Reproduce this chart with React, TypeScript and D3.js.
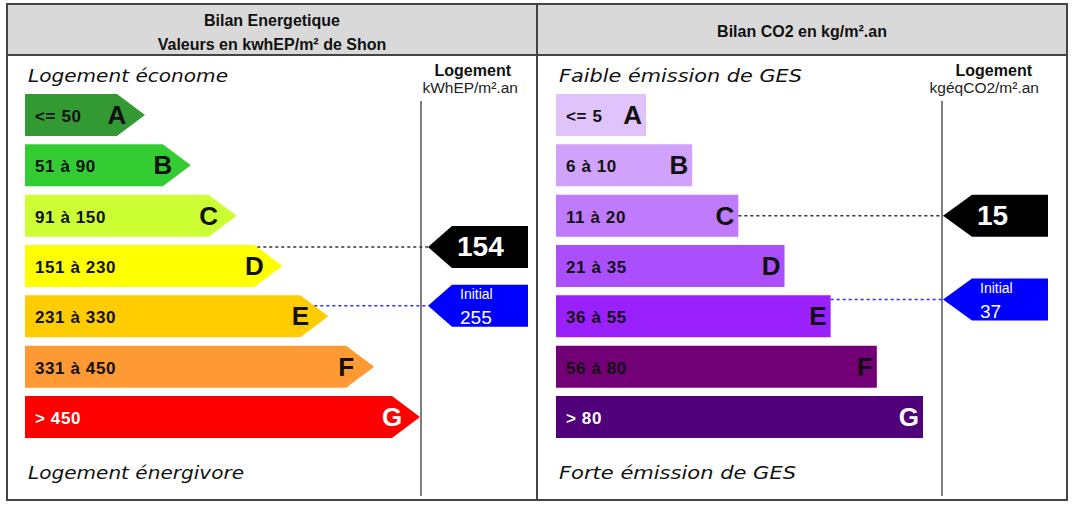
import * as d3 from 'd3'

const classes = ['A', 'B', 'C', 'D', 'E', 'F', 'G']

const energyRanges = ['<= 50', '51 à 90', '91 à 150', '151 à 230', '231 à 330', '331 à 450', '> 450']
const energyBounds = [0, 50, 90, 150, 230, 330, 450, 600]
const energyColors = ['#339933', '#33cc33', '#ccff33', '#ffff00', '#ffcc00', '#ff9933', '#ff0000']
const energyCurrent = 154
const energyInitial = 255

const co2Ranges = ['<= 5', '6 à 10', '11 à 20', '21 à 35', '36 à 55', '56 à 80', '> 80']
const co2Bounds = [0, 5, 10, 20, 35, 55, 80, 120]
const co2Colors = ['#e0c3fa', '#d1a2fb', '#c07bfc', '#ab4ffc', '#9a20fe', '#740078', '#51007c']
const co2Current = 15
const co2Initial = 37

const W = 1078
const H = 506
const FRAME = { left: 7, mid: 537, right: 1067, top: 4, head: 55, bottom: 500 }

const yBand = d3.scaleBand<string>().domain(classes).range([94, 438]).paddingInner(0.165).paddingOuter(0)

const SANS = "'Liberation Sans', Arial, sans-serif"
const WIDE = "'DejaVu Sans', Verdana, sans-serif"

interface PanelProps {
  x0: number
  x1: number
  titles: string[]
  topText: string
  topLen: number
  bottomText: string
  bottomLen: number
  unit: string
  ranges: string[]
  bounds: number[]
  colors: string[]
  current: number
  initial: number
  barX: number
  endRange: [number, number]
  tipW: number
  lineX: number
  arrowTip: number
  arrowEnd: number
  arrowTipW: number
}

// position of a value inside its class band
function valueY(v: number, bounds: number[]) {
  let i = 0
  while (i < classes.length - 1 && v > bounds[i + 1]) i++
  const s = d3.scaleLinear().domain([bounds[i], bounds[i + 1]]).range([0, yBand.bandwidth()])
  return { i, y: (yBand(classes[i]) ?? 0) + s(v) }
}

function Panel(p: PanelProps) {
  const xEnd = d3.scaleLinear().domain([0, classes.length - 1]).range(p.endRange)
  const h = yBand.bandwidth()
  const cx = (p.x0 + p.x1) / 2
  const markers = [
    { v: p.current, fill: '#000000', line: '#333333', initial: false },
    { v: p.initial, fill: '#0000ff', line: '#2f2fff', initial: true },
  ]

  return (
    <g>
      <rect x={p.x0} y={FRAME.top} width={p.x1 - p.x0} height={FRAME.head - FRAME.top} fill="#d9d9d9" />
      {p.titles.map((t, i) => (
        <text
          key={t}
          x={cx}
          y={p.titles.length === 1 ? 37 : 26 + i * 24}
          textAnchor="middle"
          fontFamily={SANS}
          fontWeight="bold"
          fontSize={16}
          fill="#111"
        >
          {t}
        </text>
      ))}

      <text x={p.barX + 3} y={82} fontFamily={WIDE} fontStyle="italic" fontSize={18} textLength={p.topLen} lengthAdjust="spacingAndGlyphs" fill="#111">
        {p.topText}
      </text>
      <text x={p.barX + 3} y={479} fontFamily={WIDE} fontStyle="italic" fontSize={18} textLength={p.bottomLen} lengthAdjust="spacingAndGlyphs" fill="#111">
        {p.bottomText}
      </text>

      <text x={p.lineX + 90} y={76} textAnchor="end" fontFamily={SANS} fontWeight="bold" fontSize={16} fill="#111">
        Logement
      </text>
      <text x={p.lineX + 97} y={93} textAnchor="end" fontFamily={SANS} fontSize={15.5} fill="#222">
        {p.unit}
      </text>
      <line x1={p.lineX} x2={p.lineX} y1={101} y2={496} stroke="#555" strokeWidth={1.5} />

      {classes.map((c, i) => {
        const y = yBand(c) ?? 0
        const end = xEnd(i)
        const body = end - p.tipW
        const pts = p.tipW > 0
          ? [[p.barX, y], [body, y], [end, y + h / 2], [body, y + h], [p.barX, y + h]]
          : [[p.barX, y], [end, y], [end, y + h], [p.barX, y + h]]
        return <polygon key={c} points={pts.map(q => q.join(',')).join(' ')} fill={p.colors[i]} />
      })}

      {markers.map(m => {
        const { i, y } = valueY(m.v, p.bounds)
        const top0 = yBand(classes[i]) ?? 0
        // start where the dashed line leaves the bar's right edge
        const startX = xEnd(i) - p.tipW + p.tipW * Math.min(1, (y - top0) / (h / 2))
        const top = y - 21
        const bot = y + 21
        const bx = p.arrowTip + p.arrowTipW
        return (
          <g key={m.v}>
            <line x1={startX} x2={p.arrowTip} y1={y} y2={y} stroke={m.line} strokeWidth={1.5} strokeDasharray="3,3" />
            <polygon
              points={[[p.arrowTip, y], [bx, top], [p.arrowEnd, top], [p.arrowEnd, bot], [bx, bot]].map(q => q.join(',')).join(' ')}
              fill={m.fill}
            />
            {m.initial ? (
              <>
                <text x={bx + 8} y={top + 14} fontFamily={SANS} fontSize={14} fill="#fff">
                  Initial
                </text>
                <text x={bx + 8} y={top + 39} fontFamily={SANS} fontSize={19} fill="#fff">
                  {m.v}
                </text>
              </>
            ) : (
              <text x={bx + 5} y={top + 30} fontFamily={SANS} fontWeight="bold" fontSize={28} fill="#fff">
                {m.v}
              </text>
            )}
          </g>
        )
      })}

      {classes.map((c, i) => {
        const y = yBand(c) ?? 0
        const end = xEnd(i)
        const body = end - p.tipW
        const txt = i === classes.length - 1 ? '#ffffff' : '#111111'
        return (
          <g key={c}>
            <text x={p.barX + 10} y={y + 28} fontFamily={SANS} fontWeight="bold" fontSize={17} letterSpacing={0.6} fill={txt}>
              {p.ranges[i]}
            </text>
            <text
              x={p.tipW > 0 ? body : end - 4}
              y={y + 30}
              textAnchor={p.tipW > 0 ? 'middle' : 'end'}
              fontFamily={SANS}
              fontWeight="bold"
              fontSize={26}
              fill={txt}
            >
              {c}
            </text>
          </g>
        )
      })}
    </g>
  )
}

export default function App() {
  return (
    <svg width={W} height={H} style={{ position: 'absolute', left: 0, top: 0, background: '#fff' }}>
      <Panel
        x0={FRAME.left}
        x1={FRAME.mid}
        titles={['Bilan Energetique', 'Valeurs en kwhEP/m² de Shon']}
        topText="Logement économe"
        topLen={200}
        bottomText="Logement énergivore"
        bottomLen={216}
        unit="kWhEP/m².an"
        ranges={energyRanges}
        bounds={energyBounds}
        colors={energyColors}
        current={energyCurrent}
        initial={energyInitial}
        barX={25}
        endRange={[145, 420]}
        tipW={28}
        lineX={421}
        arrowTip={428}
        arrowEnd={528}
        arrowTipW={24}
      />
      <Panel
        x0={FRAME.mid}
        x1={FRAME.right}
        titles={['Bilan CO2 en kg/m².an']}
        topText="Faible émission de GES"
        topLen={243}
        bottomText="Forte émission de GES"
        bottomLen={237}
        unit="kgéqCO2/m².an"
        ranges={co2Ranges}
        bounds={co2Bounds}
        colors={co2Colors}
        current={co2Current}
        initial={co2Initial}
        barX={556}
        endRange={[646, 923]}
        tipW={0}
        lineX={942}
        arrowTip={943}
        arrowEnd={1048}
        arrowTipW={29}
      />
      {/* frame */}
      <rect x={FRAME.left} y={FRAME.top} width={FRAME.right - FRAME.left} height={FRAME.bottom - FRAME.top} fill="none" stroke="#444" strokeWidth={2} />
      <line x1={FRAME.left} x2={FRAME.right} y1={FRAME.head} y2={FRAME.head} stroke="#444" strokeWidth={2} />
      <line x1={FRAME.mid} x2={FRAME.mid} y1={FRAME.top} y2={FRAME.bottom} stroke="#444" strokeWidth={2} />
    </svg>
  )
}
